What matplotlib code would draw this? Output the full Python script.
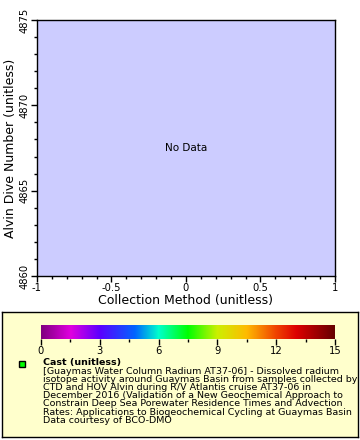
import numpy as np
import matplotlib
matplotlib.use('Agg')
import matplotlib.pyplot as plt
import matplotlib.ticker as mtick
from matplotlib.colors import LinearSegmentedColormap
from matplotlib.patches import Rectangle

# axis ranges (no data in this dataset)
x_range = [-1, 1]
y_range = [4860, 4875]
x_ticks = [-1, -0.5, 0, 0.5, 1]
x_ticklabels = ['-1', '-0.5', '0', '0.5', '1']
y_ticks = [4860, 4865, 4870, 4875]
cbar_range = [0, 15]
cbar_ticks = [0, 3, 6, 9, 12, 15]

legend_title = 'Cast (unitless)'
legend_lines = [
    '[Guaymas Water Column Radium AT37-06] - Dissolved radium',
    'isotope activity around Guaymas Basin from samples collected by',
    'CTD and HOV Alvin during R/V Atlantis cruise AT37-06 in',
    'December 2016 (Validation of a New Geochemical Approach to',
    'Constrain Deep Sea Porewater Residence Times and Advection',
    'Rates: Applications to Biogeochemical Cycling at Guaymas Basin',
    'Data courtesy of BCO-DMO',
]

cmap = LinearSegmentedColormap.from_list('rainbow2', [
    (0.0, '#800080'), (0.1, '#e000e0'), (0.2, '#5a00ff'), (0.32, '#0066ff'),
    (0.4, '#00ffcc'), (0.5, '#00ff00'), (0.6, '#ccf000'), (0.7, '#ffbb00'),
    (0.8, '#f04400'), (0.87, '#dd0000'), (1.0, '#660000')])

W, H = 360, 440
fig = plt.figure(figsize=(3.6, 4.4), dpi=100)
fig.patch.set_facecolor('white')

# legend box as a background axes
lax = fig.add_axes([2 / W, 1 - 437 / H, 356 / W, 125 / H], zorder=0)
lax.set_facecolor('#ffffcc')
lax.set_xticks([])
lax.set_yticks([])
for s in lax.spines.values():
    s.set_linewidth(1)

ax = fig.add_axes([37 / W, 1 - 276 / H, 298 / W, 256 / H], zorder=1)
ax.set_facecolor('#ccccff')
ax.set_xlim(x_range)
ax.set_ylim(y_range)
ax.set_xticks(x_ticks)
ax.set_xticklabels(x_ticklabels)
ax.set_yticks(y_ticks)
ax.xaxis.set_minor_locator(mtick.MultipleLocator(0.1))
ax.yaxis.set_minor_locator(mtick.MultipleLocator(1))
ax.tick_params(which='major', direction='out', length=4, width=1, labelsize=7.2, pad=1)
ax.tick_params(which='minor', direction='out', length=2, width=1)
for lab in ax.get_yticklabels():
    lab.set_rotation(90)
    lab.set_va('center')
for s in ax.spines.values():
    s.set_linewidth(1)
ax.set_xlabel('Collection Method (unitless)', fontsize=9, labelpad=1)
ax.set_ylabel('Alvin Dive Number (unitless)', fontsize=9, labelpad=2)
ax.text(0.5, 0.5, 'No Data', transform=ax.transAxes, ha='center', va='center', fontsize=7.5)

cax = fig.add_axes([41 / W, 1 - 339 / H, 294 / W, 14 / H], zorder=2)
grad = np.linspace(cbar_range[0], cbar_range[1], 256).reshape(1, -1)
cax.imshow(grad, aspect='auto', cmap=cmap, extent=[cbar_range[0], cbar_range[1], 0, 1])
cax.set_xlim(cbar_range)
cax.set_yticks([])
cax.set_xticks(cbar_ticks)
cax.xaxis.set_minor_locator(mtick.MultipleLocator(1.5))
cax.tick_params(which='major', direction='out', length=4, width=1, labelsize=7.2, pad=1)
cax.tick_params(which='minor', direction='out', length=2, width=1)
for s in cax.spines.values():
    s.set_visible(False)

lax.add_patch(Rectangle((19 / W, 1 - 367 / H), 6 / W, 6 / H, transform=fig.transFigure,
                        facecolor='#00ff00', edgecolor='black', linewidth=1))
fig.text(43 / W, 1 - 362 / H, legend_title, fontsize=6.8, fontweight='bold', va='center', zorder=3)
for i, line in enumerate(legend_lines):
    fig.text(43 / W, 1 - (371 + 8.2 * i) / H, line, fontsize=6.8, va='center', zorder=3)

fig.savefig('out.png', dpi=100)
